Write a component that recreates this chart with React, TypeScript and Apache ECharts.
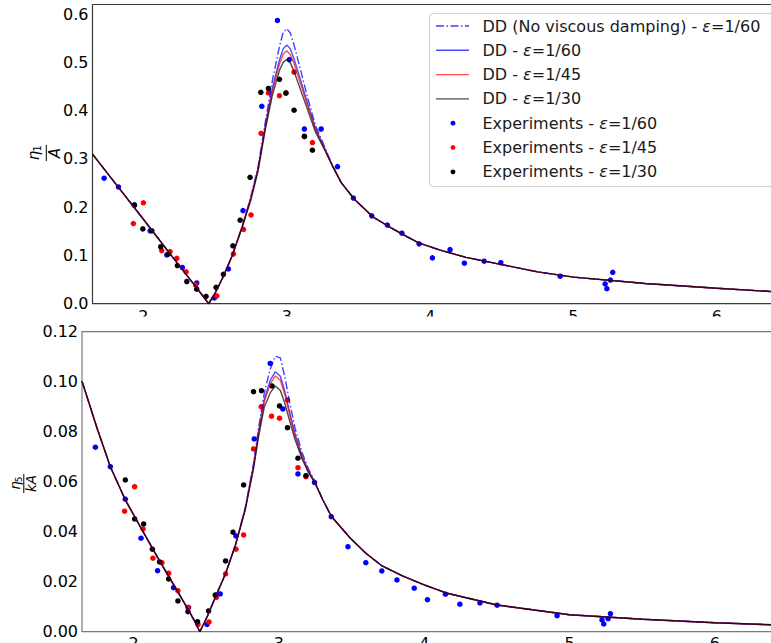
import React, { useEffect, useRef } from "react";
import * as echarts from "echarts";

const X_MIN = 1.645;
const X_MAX = 6.5;
const xTickValues = [2, 3, 4, 5, 6];
const topYTickValues = [0, 0.1, 0.2, 0.3, 0.4, 0.5, 0.6];
const botYTickValues = [0, 0.02, 0.04, 0.06, 0.08, 0.1, 0.12];

const legendLabels = [
  "DD (No viscous damping) - {e|ε}=1/60",
  "DD - {e|ε}=1/60",
  "DD - {e|ε}=1/45",
  "DD - {e|ε}=1/30",
  "Experiments - {e|ε}=1/60",
  "Experiments - {e|ε}=1/45",
  "Experiments - {e|ε}=1/30",
];

// ---- top panel: eta1 / A ----
const topX = [1.645, 1.8, 2.0, 2.2, 2.35, 2.456, 2.5, 2.56, 2.62, 2.69, 2.75, 2.8, 2.85, 2.9, 2.95, 2.975, 3.0, 3.025, 3.05, 3.1, 3.15, 3.2, 3.26, 3.32, 3.38, 3.47, 3.6, 3.7, 3.8, 3.92, 4.07, 4.25, 4.5, 4.75, 5.0, 5.5, 6.0, 6.5];
const topDDNoVisc60 = [0.310, 0.251, 0.175, 0.098, 0.041, 0.0, 0.022, 0.058, 0.100, 0.160, 0.222, 0.284, 0.376, 0.463, 0.534, 0.562, 0.570, 0.561, 0.537, 0.480, 0.422, 0.370, 0.328, 0.285, 0.251, 0.217, 0.180, 0.162, 0.145, 0.126, 0.111, 0.096, 0.081, 0.066, 0.055, 0.042, 0.032, 0.023];
const topDD60 = [0.310, 0.251, 0.175, 0.098, 0.041, 0.0, 0.022, 0.058, 0.100, 0.160, 0.220, 0.280, 0.368, 0.447, 0.506, 0.528, 0.536, 0.528, 0.508, 0.460, 0.411, 0.364, 0.325, 0.285, 0.251, 0.217, 0.180, 0.162, 0.145, 0.126, 0.111, 0.096, 0.081, 0.066, 0.055, 0.042, 0.032, 0.023];
const topDD45 = [0.310, 0.251, 0.175, 0.098, 0.041, 0.0, 0.022, 0.058, 0.100, 0.160, 0.219, 0.278, 0.365, 0.441, 0.497, 0.517, 0.524, 0.516, 0.498, 0.452, 0.406, 0.361, 0.323, 0.285, 0.251, 0.217, 0.180, 0.162, 0.145, 0.126, 0.111, 0.096, 0.081, 0.066, 0.055, 0.042, 0.032, 0.023];
const topDD30 = [0.310, 0.251, 0.175, 0.098, 0.041, 0.0, 0.022, 0.058, 0.100, 0.160, 0.215, 0.275, 0.360, 0.432, 0.484, 0.500, 0.506, 0.499, 0.482, 0.440, 0.398, 0.356, 0.321, 0.285, 0.251, 0.217, 0.180, 0.162, 0.145, 0.126, 0.111, 0.096, 0.081, 0.066, 0.055, 0.042, 0.032, 0.023];

const topExp60 = [[1.726, 0.260], [1.826, 0.242], [1.937, 0.205], [2.047, 0.151], [2.163, 0.101], [2.272, 0.075], [2.372, 0.043], [2.495, 0.012], [2.593, 0.072], [2.695, 0.193], [2.826, 0.409], [2.935, 0.587], [3.018, 0.506], [3.123, 0.362], [3.240, 0.362], [3.354, 0.284], [3.465, 0.219], [3.593, 0.182], [3.702, 0.163], [3.803, 0.146], [3.923, 0.124], [4.016, 0.095], [4.139, 0.112], [4.239, 0.084], [4.377, 0.088], [4.493, 0.085], [4.907, 0.057], [5.221, 0.041], [5.233, 0.031], [5.258, 0.049], [5.274, 0.065]];
const topExp45 = [[1.930, 0.166], [2.000, 0.209], [2.128, 0.110], [2.186, 0.108], [2.233, 0.094], [2.298, 0.066], [2.365, 0.039], [2.512, 0.016], [2.628, 0.103], [2.698, 0.154], [2.751, 0.184], [2.821, 0.353], [2.872, 0.437], [2.949, 0.431], [2.993, 0.436], [3.051, 0.480], [3.123, 0.346], [3.179, 0.334]];
const topExp30 = [[1.937, 0.204], [1.996, 0.155], [2.059, 0.151], [2.121, 0.118], [2.174, 0.103], [2.237, 0.079], [2.303, 0.046], [2.372, 0.030], [2.437, 0.015], [2.507, 0.034], [2.558, 0.061], [2.624, 0.120], [2.675, 0.173], [2.744, 0.262], [2.819, 0.438], [2.872, 0.446], [2.949, 0.465], [2.995, 0.437], [3.051, 0.401], [3.123, 0.347], [3.179, 0.318]];

// ---- bottom panel: eta5 / kA ----
const botX = [1.645, 1.75, 1.84, 1.945, 2.06, 2.175, 2.278, 2.376, 2.42, 2.456, 2.51, 2.564, 2.633, 2.7, 2.768, 2.825, 2.86, 2.9, 2.94, 2.975, 3.01, 3.04, 3.08, 3.112, 3.16, 3.204, 3.245, 3.3, 3.36, 3.49, 3.6, 3.71, 3.85, 4.0, 4.15, 4.5, 5.0, 5.5, 6.0, 6.5];
const botDDNoVisc60 = [0.1002, 0.0812, 0.0660, 0.0525, 0.0405, 0.0287, 0.0185, 0.0088, 0.0042, 0.0, 0.0065, 0.0140, 0.0233, 0.0345, 0.0495, 0.0672, 0.0815, 0.0957, 0.1050, 0.1102, 0.1095, 0.1020, 0.0900, 0.0812, 0.0716, 0.0650, 0.0605, 0.0530, 0.0462, 0.0375, 0.0313, 0.0263, 0.0223, 0.0187, 0.0155, 0.0107, 0.0068, 0.0050, 0.0036, 0.0025];
const botDD60 = [0.1002, 0.0812, 0.0660, 0.0525, 0.0405, 0.0287, 0.0185, 0.0088, 0.0042, 0.0, 0.0065, 0.0140, 0.0233, 0.0345, 0.0492, 0.0664, 0.0800, 0.0932, 0.1005, 0.1040, 0.1022, 0.0963, 0.0863, 0.0789, 0.0702, 0.0642, 0.0601, 0.0530, 0.0462, 0.0375, 0.0313, 0.0263, 0.0223, 0.0187, 0.0155, 0.0107, 0.0068, 0.0050, 0.0036, 0.0025];
const botDD45 = [0.1002, 0.0812, 0.0660, 0.0525, 0.0405, 0.0287, 0.0185, 0.0088, 0.0042, 0.0, 0.0065, 0.0140, 0.0233, 0.0345, 0.0490, 0.0660, 0.0793, 0.0922, 0.0990, 0.1023, 0.1006, 0.0950, 0.0853, 0.0782, 0.0698, 0.0640, 0.0600, 0.0530, 0.0462, 0.0375, 0.0313, 0.0263, 0.0223, 0.0187, 0.0155, 0.0107, 0.0068, 0.0050, 0.0036, 0.0025];
const botDD30 = [0.1002, 0.0812, 0.0660, 0.0525, 0.0405, 0.0287, 0.0185, 0.0088, 0.0042, 0.0, 0.0065, 0.0140, 0.0233, 0.0345, 0.0487, 0.0650, 0.0780, 0.0900, 0.0955, 0.0983, 0.0965, 0.0915, 0.0830, 0.0767, 0.0690, 0.0635, 0.0597, 0.0530, 0.0462, 0.0375, 0.0313, 0.0263, 0.0223, 0.0187, 0.0155, 0.0107, 0.0068, 0.0050, 0.0036, 0.0025];

const botExp60 = [[1.737, 0.0738], [1.840, 0.066], [1.943, 0.053], [2.051, 0.0374], [2.165, 0.0244], [2.275, 0.0176], [2.378, 0.0097], [2.505, 0.0029], [2.596, 0.0151], [2.704, 0.0383], [2.830, 0.0771], [2.940, 0.1073], [3.027, 0.0891], [3.131, 0.0631], [3.245, 0.0597], [3.360, 0.046], [3.475, 0.034], [3.598, 0.0276], [3.708, 0.0243], [3.812, 0.0207], [3.931, 0.0174], [4.022, 0.0128], [4.146, 0.0150], [4.245, 0.0110], [4.383, 0.0115], [4.501, 0.0106], [4.914, 0.0064], [5.223, 0.0047], [5.235, 0.0031], [5.265, 0.0052], [5.281, 0.0072]];
const botExp45 = [[1.938, 0.0482], [2.007, 0.058], [2.065, 0.0411], [2.133, 0.0294], [2.195, 0.0276], [2.241, 0.0234], [2.305, 0.0164], [2.374, 0.0097], [2.443, 0.0029], [2.519, 0.0039], [2.569, 0.0137], [2.633, 0.0231], [2.704, 0.033], [2.757, 0.0387], [2.825, 0.0731], [2.878, 0.090], [2.949, 0.0862], [3.004, 0.0854], [3.059, 0.0927], [3.131, 0.0656], [3.186, 0.062]];
const botExp30 = [[1.943, 0.0607], [2.007, 0.0451], [2.069, 0.0431], [2.129, 0.033], [2.179, 0.0279], [2.241, 0.0211], [2.305, 0.0123], [2.374, 0.008], [2.440, 0.004], [2.516, 0.0083], [2.562, 0.0147], [2.633, 0.0283], [2.684, 0.0398], [2.757, 0.0587], [2.825, 0.096], [2.880, 0.0964], [2.952, 0.0983], [3.004, 0.0903], [3.059, 0.0816], [3.131, 0.0694], [3.186, 0.0624]];

const FONT = "DejaVu Sans";
const BLUE = "#0000ff";
const RED = "#ff0000";
const BLACK = "#000000";
const DASHDOT = [8, 2.5, 1.5, 2.5];

const lineStyles = [
  { color: BLUE, type: DASHDOT as any, width: 1.4, opacity: 0.75 },
  { color: BLUE, type: "solid", width: 1.4, opacity: 0.7 },
  { color: RED, type: "solid", width: 1.4, opacity: 0.7 },
  { color: BLACK, type: "solid", width: 1.4, opacity: 0.7 },
];
const dotColors = [BLUE, RED, BLACK];

function lineSeries(xs: number[], ys: number[], idx: number, s: any, name: string) {
  return {
    type: "line",
    name,
    xAxisIndex: idx,
    yAxisIndex: idx,
    data: xs.map((x, i) => [x, ys[i]]),
    showSymbol: false,
    symbol: "none",
    smooth: false,
    lineStyle: { color: s.color, type: s.type, width: s.width, opacity: s.opacity },
    itemStyle: { color: s.color },
    silent: true,
  };
}
function dotSeries(pts: number[][], idx: number, color: string, name: string) {
  return {
    type: "scatter",
    name,
    xAxisIndex: idx,
    yAxisIndex: idx,
    data: pts,
    symbol: "circle",
    symbolSize: 5.5,
    itemStyle: { color, opacity: 1 },
    silent: true,
  };
}

function fraction(x: number, y: number, barHalf: number, num: string, sub: string, den: string, fs: number, numX: number, numY: number, subX: number, subY: number, denY: number) {
  return {
    type: "group",
    x,
    y,
    rotation: Math.PI / 2,
    z: 50,
    children: [
      { type: "line", z: 50, shape: { x1: -barHalf, y1: 0, x2: barHalf, y2: 0 }, style: { stroke: "#000", lineWidth: 1 } },
      { type: "text", z: 50, x: numX, y: numY, style: { text: num, fontSize: fs, fontFamily: FONT, fontStyle: "italic", fill: "#000", align: "center", verticalAlign: "middle" } },
      { type: "text", z: 50, x: subX, y: subY, style: { text: sub, fontSize: fs * 0.66, fontFamily: FONT, fill: "#000", align: "center", verticalAlign: "middle" } },
      { type: "text", z: 50, x: 0, y: denY, style: { text: den, fontSize: fs, fontFamily: FONT, fontStyle: "italic", fill: "#000", align: "center", verticalAlign: "middle" } },
    ],
  };
}

function legendGraphic() {
  const els: any[] = [];
  els.push({
    type: "rect",
    z: 60,
    shape: { x: 429.5, y: 13.5, width: 380, height: 173, r: 3 },
    style: { fill: "rgba(255,255,255,0.85)", stroke: "#d0d0d0", lineWidth: 1 },
  });
  legendLabels.forEach((lab, i) => {
    const y = 26 + i * 24.3;
    if (i < 4) {
      const s = lineStyles[i];
      els.push({
        type: "line",
        z: 61,
        shape: { x1: 436, y1: y, x2: 469, y2: y },
        style: { stroke: s.color, lineWidth: s.width, opacity: s.opacity, lineDash: i === 0 ? DASHDOT : null },
      });
    } else {
      els.push({ type: "circle", z: 61, shape: { cx: 453, cy: y, r: 2.4 }, style: { fill: dotColors[i - 4] } });
    }
    els.push({
      type: "text",
      z: 61,
      x: 482.5,
      y,
      style: {
        text: lab,
        fontSize: 16,
        fontFamily: FONT,
        fill: "#1a1a1a",
        align: "left",
        verticalAlign: "middle",
        rich: { e: { fontSize: 16, fontFamily: FONT, fontStyle: "italic", fill: "#1a1a1a" } },
      },
    });
  });
  return els;
}

export default function App() {
  const ref = useRef<HTMLDivElement>(null);
  useEffect(() => {
    if (!ref.current) return;
    const chart = echarts.init(ref.current, null, { renderer: "svg" });
    const xAxisBase = (gridIndex: number, margin: number) => ({
      type: "value",
      gridIndex,
      min: X_MIN,
      max: X_MAX,
      axisLine: { show: false },
      axisTick: { show: false },
      splitLine: { show: false },
      axisLabel: {
        customValues: xTickValues,
        fontSize: 16,
        fontFamily: FONT,
        color: "#000",
        margin,
        formatter: (v: number) => String(Math.round(v)),
      },
    });
    const yAxisBase = (gridIndex: number, max: number, ticks: number[], dec: number) => ({
      type: "value",
      gridIndex,
      min: 0,
      max,
      axisLine: { show: false },
      axisTick: { show: false },
      splitLine: { show: false },
      axisLabel: {
        customValues: ticks,
        fontSize: 16,
        fontFamily: FONT,
        color: "#000",
        margin: 4,
        formatter: (v: number) => v.toFixed(dec),
      },
    });
    const series: any[] = [
      lineSeries(topX, topDDNoVisc60, 0, lineStyles[0], "t0"),
      lineSeries(topX, topDD60, 0, lineStyles[1], "t1"),
      lineSeries(topX, topDD45, 0, lineStyles[2], "t2"),
      lineSeries(topX, topDD30, 0, lineStyles[3], "t3"),
      dotSeries(topExp60, 0, BLUE, "te60"),
      dotSeries(topExp45, 0, RED, "te45"),
      dotSeries(topExp30, 0, BLACK, "te30"),
      lineSeries(botX, botDDNoVisc60, 1, lineStyles[0], "b0"),
      lineSeries(botX, botDD60, 1, lineStyles[1], "b1"),
      lineSeries(botX, botDD45, 1, lineStyles[2], "b2"),
      lineSeries(botX, botDD30, 1, lineStyles[3], "b3"),
      dotSeries(botExp60, 1, BLUE, "be60"),
      dotSeries(botExp45, 1, RED, "be45"),
      dotSeries(botExp30, 1, BLACK, "be30"),
    ];
    chart.setOption({
      animation: false,
      grid: [
        { left: 92.5, top: 4.5, width: 696, height: 299.2, show: true, borderColor: "#3a3a3a", borderWidth: 1.2, backgroundColor: "transparent" },
        { left: 82, top: 331.7, width: 705.6, height: 300, show: true, borderColor: "#7a7a7a", borderWidth: 1.2, backgroundColor: "transparent" },
      ],
      xAxis: [xAxisBase(0, 4.5), xAxisBase(1, 3.5)],
      yAxis: [yAxisBase(0, 0.62, topYTickValues, 1), yAxisBase(1, 0.12, botYTickValues, 2)],
      series,
      graphic: [
        { type: "rect", z: 40, shape: { x: 88, y: 316.5, width: 720, height: 13.5 }, style: { fill: "#ffffff" } },
        fraction(46.3, 153, 8, "η", "1", "A", 15, -2.5, -12.4, 4.6, -8.8, 9.0),
        fraction(23.8, 483.5, 9.5, "η", "5", "kA", 13.5, -2, -8.9, 4, -5.3, 6.7),
        ...legendGraphic(),
      ],
    });
    return () => chart.dispose();
  }, []);
  return (
    <div style={{ position: "fixed", left: 0, top: 0, width: 771, height: 643, overflow: "hidden", background: "#fff" }}>
      <div ref={ref} style={{ width: 800, height: 680 }} />
    </div>
  );
}
